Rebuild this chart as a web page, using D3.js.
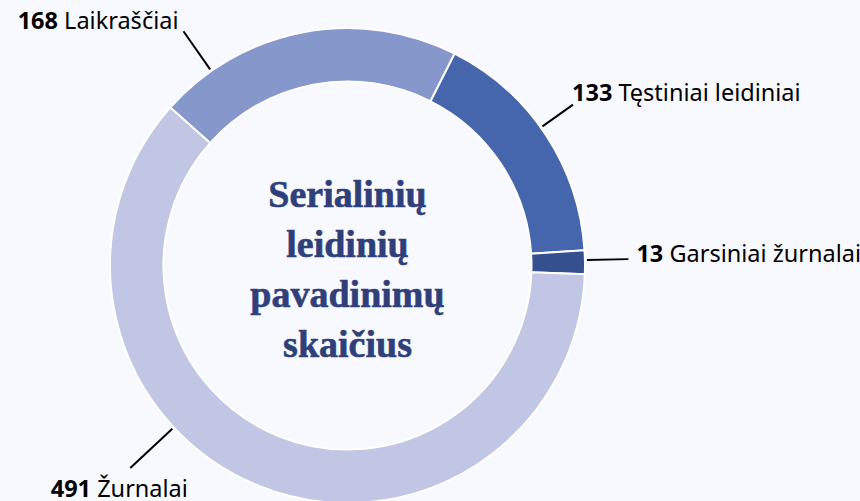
<!DOCTYPE html>
<html>
<head>
<meta charset="utf-8">
<script src="https://cdn.jsdelivr.net/npm/d3@7"></script>
<style>
  html, body { margin: 0; padding: 0; background: #f8f9fe; }
  svg { display: block; }
</style>
</head>
<body>
<svg width="860" height="501"></svg>
<script>
// data, in drawing order (clockwise from the start angle)
const categories = ['Laikraščiai', 'Tęstiniai leidiniai', 'Garsiniai žurnalai', 'Žurnalai'];
const counts = [168, 133, 13, 491];
const colors = ['#8597cb', '#4565ac', '#34508f', '#c0c6e3'];
const centerTitle = ['Serialinių', 'leidinių', 'pavadinimų', 'skaičius'];

// label layout: leader angle (deg from top), leader end radius, text anchor
const labelLayout = [
  {angle: -35, r2: 286, anchor: 'end', dx: -5, dy: -2},
  {angle: 54.5, r2: 277, anchor: 'start', dx: -1, dy: -4},
  {angle: 88.7, r2: 281, anchor: 'start', dx: 8, dy: 3},
  {angle: 227, r2: 297, anchor: 'middle', dx: -11, dy: 29}
];

const CX = 347.5, CY = 265.5;
const OUTER = 237.5, INNER = 184;
const START = -48.3 * Math.PI / 180;

const svg = d3.select('svg');
const g = svg.append('g').attr('transform', 'translate(' + CX + ',' + CY + ')');

const pie = d3.pie()
  .sort(null)
  .value(d => d)
  .startAngle(START)
  .endAngle(START + 2 * Math.PI);

const arc = d3.arc()
  .innerRadius(INNER)
  .outerRadius(OUTER);

const arcs = pie(counts);

g.selectAll('.slice')
  .data(arcs)
  .enter()
  .append('path')
  .attr('class', 'slice')
  .attr('d', arc)
  .attr('fill', (d, i) => colors[i])
  .attr('stroke', '#ffffff')
  .attr('stroke-width', 2);

// leader lines and labels
const polar = (deg, r) => {
  const a = deg * Math.PI / 180;
  return [r * Math.sin(a), -r * Math.cos(a)];
};

g.selectAll('.label')
  .data(arcs)
  .enter()
  .append('g')
  .attr('class', 'label')
  .each(function(d, i) {
    const l = labelLayout[i];
    const p1 = polar(l.angle, OUTER + 2);
    const p2 = polar(l.angle, l.r2);
    const sel = d3.select(this);
    sel.append('line')
      .attr('x1', p1[0]).attr('y1', p1[1])
      .attr('x2', p2[0]).attr('y2', p2[1])
      .attr('stroke', '#000')
      .attr('stroke-width', 2);
    const t = sel.append('text')
      .attr('x', p2[0] + l.dx)
      .attr('y', p2[1] + l.dy)
      .attr('text-anchor', l.anchor)
      .attr('font-family', '"Noto Sans", "Open Sans", sans-serif')
      .attr('font-size', 23.5)
      .attr('fill', '#000');
    t.append('tspan').attr('font-weight', 700).text(d.data);
    t.append('tspan').attr('font-weight', 400).text(' ' + categories[i]);
  });

// center title
g.append('text')
  .attr('text-anchor', 'middle')
  .attr('font-family', '"Liberation Serif", "DejaVu Serif", serif')
  .attr('font-weight', 700)
  .attr('font-size', 38)
  .attr('fill', '#2e3f7a')
  .attr('stroke', '#2e3f7a')
  .attr('stroke-width', 0.6)
  .selectAll('tspan')
  .data(centerTitle)
  .enter()
  .append('tspan')
  .attr('x', 0)
  .attr('y', (d, i) => -58.8 + i * 50)
  .text(d => d);
</script>
</body>
</html>
